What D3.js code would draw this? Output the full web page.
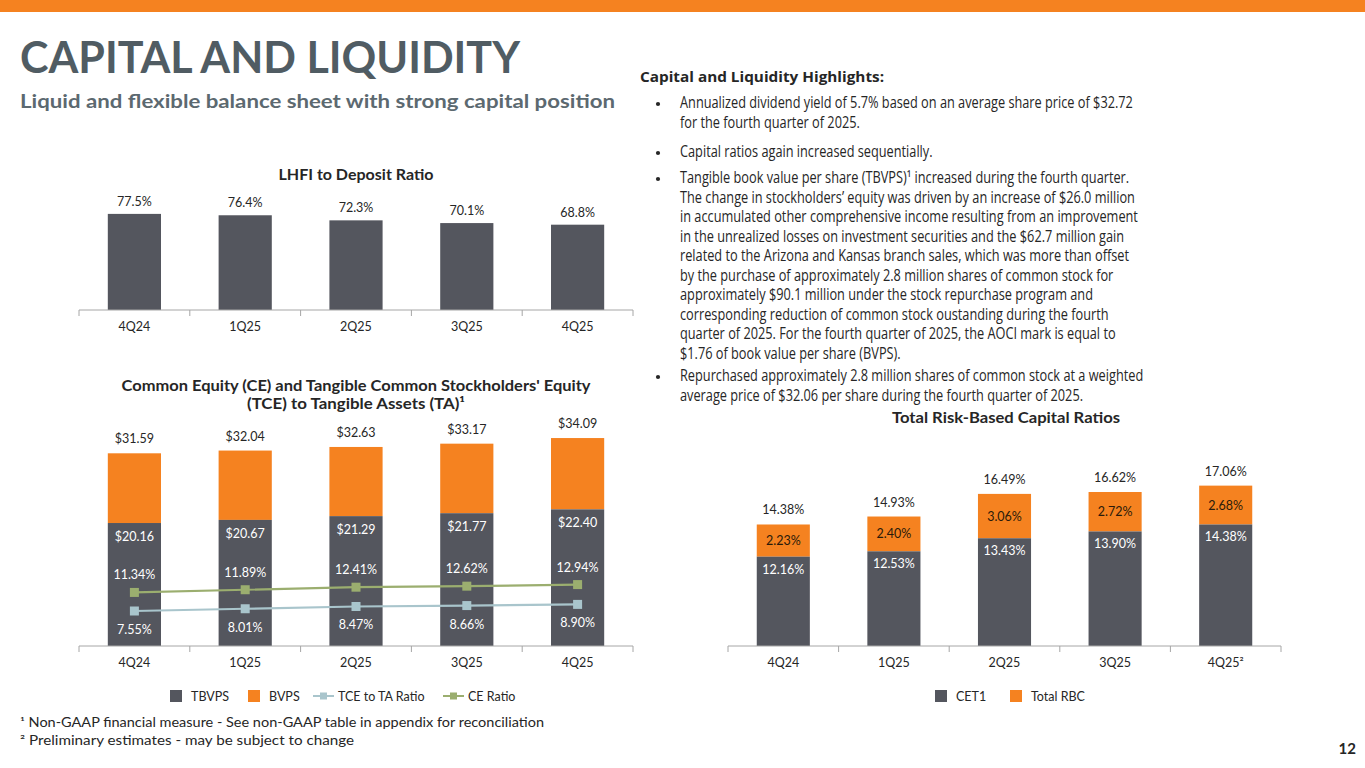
<!DOCTYPE html>
<html><head><meta charset="utf-8">
<script src="https://cdn.jsdelivr.net/npm/d3@7"></script>
<style>
html,body{margin:0;padding:0;background:#fff;}
svg{display:block;font-family:Lato,"Open Sans",sans-serif;}
</style></head>
<body>
<svg id="c" width="1365" height="768"></svg>
<script>
// ---------- data ----------
const quarters = ["4Q24","1Q25","2Q25","3Q25","4Q25"];
const rbcQuarters = ["4Q24","1Q25","2Q25","3Q25","4Q25²"];
const lhfiRatio = [77.5, 76.4, 72.3, 70.1, 68.8];
const tbvps = [20.16, 20.67, 21.29, 21.77, 22.40];
const bvps = [31.59, 32.04, 32.63, 33.17, 34.09];
const tceToTa = [7.55, 8.01, 8.47, 8.66, 8.90];
const ceRatio = [11.34, 11.89, 12.41, 12.62, 12.94];
const cet1 = [12.16, 12.53, 13.43, 13.90, 14.38];
const rbcIncrement = [2.23, 2.40, 3.06, 2.72, 2.68];
const totalRbc = [14.38, 14.93, 16.49, 16.62, 17.06];

const bulletLines = [
  ["Annualized dividend yield of 5.7% based on an average share price of $32.72",
   "for the fourth quarter of 2025."],
  ["Capital ratios again increased sequentially."],
  ["Tangible book value per share (TBVPS)¹ increased during the fourth quarter.",
   "The change in stockholders’ equity was driven by an increase of $26.0 million",
   "in accumulated other comprehensive income resulting from an improvement",
   "in the unrealized losses on investment securities and the $62.7 million gain",
   "related to the Arizona and Kansas branch sales, which was more than offset",
   "by the purchase of approximately 2.8 million shares of common stock for",
   "approximately $90.1 million under the stock repurchase program and",
   "corresponding reduction of common stock oustanding during the fourth",
   "quarter of 2025. For the fourth quarter of 2025, the AOCI mark is equal to",
   "$1.76 of book value per share (BVPS)."],
  ["Repurchased approximately 2.8 million shares of common stock at a weighted",
   "average price of $32.06 per share during the fourth quarter of 2025."]
];

// ---------- styles ----------
const DARK = "#54565E", ORANGE = "#F58220", TITLE = "#505C63";
const GREEN = "#9BAE6F", BLUE = "#A9C5CC", TXT = "#262626", AXIS = "#A6A6A6";

const svg = d3.select("#c");
function fit(sel, w){ sel.attr("textLength", w).attr("lengthAdjust","spacingAndGlyphs"); return sel; }

// top band
svg.append("rect").attr("x",0).attr("y",0).attr("width",1365).attr("height",12).attr("fill",ORANGE);

// titles
fit(svg.append("text").attr("x",20).attr("y",73).attr("font-size",43).attr("font-weight",700)
  .attr("fill",TITLE).text("CAPITAL AND LIQUIDITY"), 500);
fit(svg.append("text").attr("x",20).attr("y",108).attr("font-size",19.5).attr("font-weight",700)
  .attr("fill","#5C6970").text("Liquid and flexible balance sheet with strong capital position"), 595);

// ---------- helpers ----------
function xAxis(g, x, y0, labels){
  const [r0,r1] = x.range();
  g.append("line").attr("x1",r0).attr("x2",r1).attr("y1",y0).attr("y2",y0).attr("stroke",AXIS).attr("stroke-width",1);
  const bounds = [r0].concat(x.domain().map(d => x(d) + x.bandwidth()/2 + x.step()/2));
  g.selectAll(null).data(bounds).join("line")
    .attr("x1",d=>d).attr("x2",d=>d).attr("y1",y0).attr("y2",y0+6).attr("stroke",AXIS);
  g.selectAll(null).data(x.domain()).join("text")
    .attr("x",(d)=>x(d)+x.bandwidth()/2).attr("y",y0+21).attr("text-anchor","middle")
    .attr("font-size",12.5).attr("fill",TXT).text((d,i)=>labels[i]);
}
function band(r0,r1){
  return d3.scaleBand().domain(quarters).range([r0,r1]).paddingInner(0.52).paddingOuter(0.26);
}

// ---------- LHFI chart ----------
{
  const g = svg.append("g");
  const x = band(79, 633);
  const y = d3.scaleLinear().domain([0,100]).range([310,186]);
  fit(g.append("text").attr("x",356).attr("y",180).attr("text-anchor","middle").attr("font-size",14.5)
    .attr("font-weight",700).attr("fill",TXT).text("LHFI to Deposit Ratio"),155);
  g.selectAll(null).data(lhfiRatio).join("rect")
    .attr("x",(d,i)=>x(quarters[i])).attr("width",x.bandwidth())
    .attr("y",d=>y(d)).attr("height",d=>y(0)-y(d)).attr("fill",DARK);
  g.selectAll(null).data(lhfiRatio).join("text")
    .attr("x",(d,i)=>x(quarters[i])+x.bandwidth()/2).attr("y",d=>y(d)-8)
    .attr("text-anchor","middle").attr("font-size",12.5).attr("fill",TXT).text(d=>d.toFixed(1)+"%");
  xAxis(g, x, 310, quarters);
}

// ---------- CE / TCE chart ----------
{
  const g = svg.append("g");
  const x = band(79, 633);
  const y = d3.scaleLinear().domain([0,40]).range([646,402]);
  const y2 = d3.scaleLinear().domain([0,50]).range([648,403]);
  fit(g.append("text").attr("x",356).attr("y",391).attr("text-anchor","middle").attr("font-size",14.5)
    .attr("font-weight",700).attr("fill",TXT).text("Common Equity (CE) and Tangible Common Stockholders' Equity"),469);
  fit(g.append("text").attr("x",356).attr("y",409).attr("text-anchor","middle").attr("font-size",14.5)
    .attr("font-weight",700).attr("fill",TXT).text("(TCE) to Tangible Assets (TA)¹"),218);
  const cx = i => x(quarters[i]) + x.bandwidth()/2;
  g.selectAll(null).data(bvps).join("rect")
    .attr("x",(d,i)=>x(quarters[i])).attr("width",x.bandwidth())
    .attr("y",d=>y(d)).attr("height",(d,i)=>y(tbvps[i])-y(d)).attr("fill",ORANGE);
  g.selectAll(null).data(tbvps).join("rect")
    .attr("x",(d,i)=>x(quarters[i])).attr("width",x.bandwidth())
    .attr("y",d=>y(d)).attr("height",d=>y(0)-y(d)).attr("fill",DARK);
  g.selectAll(null).data(bvps).join("text")
    .attr("x",(d,i)=>cx(i)).attr("y",d=>y(d)-10).attr("text-anchor","middle")
    .attr("font-size",12.5).attr("fill",TXT).text(d=>"$"+d.toFixed(2));
  g.selectAll(null).data(tbvps).join("text")
    .attr("x",(d,i)=>cx(i)).attr("y",d=>y(d)+18).attr("text-anchor","middle")
    .attr("font-size",12.5).attr("fill","#fff").text(d=>"$"+d.toFixed(2));
  [[ceRatio,GREEN,-13],[tceToTa,BLUE,23]].forEach(([vals,col,off])=>{
    const line = d3.line().x((d,i)=>cx(i)).y(d=>y2(d));
    g.append("path").datum(vals).attr("d",line).attr("fill","none").attr("stroke",col).attr("stroke-width",2.2);
    g.selectAll(null).data(vals).join("rect")
      .attr("x",(d,i)=>cx(i)-4.5).attr("y",d=>y2(d)-4.5).attr("width",9).attr("height",9).attr("fill",col);
    g.selectAll(null).data(vals).join("text")
      .attr("x",(d,i)=>cx(i)).attr("y",d=>y2(d)+off).attr("text-anchor","middle")
      .attr("font-size",12.5).attr("fill","#fff").text(d=>d.toFixed(2)+"%");
  });
  xAxis(g, x, 646, quarters);
  const ly = 696;
  g.append("rect").attr("x",170).attr("y",ly-6).attr("width",12).attr("height",12).attr("fill",DARK);
  g.append("text").attr("x",191).attr("y",ly+4.5).attr("font-size",12.5).attr("fill",TXT).text("TBVPS");
  g.append("rect").attr("x",248).attr("y",ly-6).attr("width",12).attr("height",12).attr("fill",ORANGE);
  g.append("text").attr("x",269).attr("y",ly+4.5).attr("font-size",12.5).attr("fill",TXT).text("BVPS");
  [[313,BLUE,"TCE to TA Ratio"],[443,GREEN,"CE Ratio"]].forEach(([lx,col,t])=>{
    g.append("line").attr("x1",lx).attr("x2",lx+21).attr("y1",ly).attr("y2",ly).attr("stroke",col).attr("stroke-width",2);
    g.append("rect").attr("x",lx+7).attr("y",ly-3.5).attr("width",7).attr("height",7).attr("fill",col);
    g.append("text").attr("x",lx+25).attr("y",ly+4.5).attr("font-size",12.5).attr("fill",TXT).text(t);
  });
}

// ---------- RBC chart ----------
{
  const g = svg.append("g");
  const x = d3.scaleBand().domain(quarters).range([728,1281]).paddingInner(0.52).paddingOuter(0.26);
  const y = d3.scaleLinear().domain([6,18]).range([646,472]);
  const cx = i => x(quarters[i]) + x.bandwidth()/2;
  fit(g.append("text").attr("x",1006).attr("y",423).attr("text-anchor","middle").attr("font-size",14.5)
    .attr("font-weight",700).attr("fill",TXT).text("Total Risk-Based Capital Ratios"),228);
  g.selectAll(null).data(totalRbc).join("rect")
    .attr("x",(d,i)=>x(quarters[i])).attr("width",x.bandwidth())
    .attr("y",d=>y(d)).attr("height",(d,i)=>y(cet1[i])-y(d)).attr("fill",ORANGE);
  g.selectAll(null).data(cet1).join("rect")
    .attr("x",(d,i)=>x(quarters[i])).attr("width",x.bandwidth())
    .attr("y",d=>y(d)).attr("height",d=>646-y(d)).attr("fill",DARK);
  g.selectAll(null).data(totalRbc).join("text")
    .attr("x",(d,i)=>cx(i)).attr("y",d=>y(d)-10).attr("text-anchor","middle")
    .attr("font-size",12.5).attr("fill",TXT).text(d=>d.toFixed(2)+"%");
  g.selectAll(null).data(rbcIncrement).join("text")
    .attr("x",(d,i)=>cx(i)).attr("y",(d,i)=>(y(cet1[i])+y(totalRbc[i]))/2+4.5).attr("text-anchor","middle")
    .attr("font-size",12.5).attr("fill","#2a1a0a").text(d=>d.toFixed(2)+"%");
  g.selectAll(null).data(cet1).join("text")
    .attr("x",(d,i)=>cx(i)).attr("y",d=>y(d)+17).attr("text-anchor","middle")
    .attr("font-size",12.5).attr("fill","#fff").text(d=>d.toFixed(2)+"%");
  xAxis(g, x, 646, rbcQuarters);
  const ly = 696;
  g.append("rect").attr("x",935).attr("y",ly-6).attr("width",12).attr("height",12).attr("fill",DARK);
  g.append("text").attr("x",956).attr("y",ly+4.5).attr("font-size",12.5).attr("fill",TXT).text("CET1");
  g.append("rect").attr("x",1010).attr("y",ly-6).attr("width",12).attr("height",12).attr("fill",ORANGE);
  g.append("text").attr("x",1031).attr("y",ly+4.5).attr("font-size",12.5).attr("fill",TXT).text("Total RBC");
}

// ---------- highlights text ----------
{
  const g = svg.append("g").style("font-family","'Open Sans',Lato,sans-serif");
  fit(g.append("text").attr("x",640).attr("y",82).attr("font-size",15).attr("font-weight",700)
    .attr("fill",TXT).text("Capital and Liquidity Highlights:"),244);
  const ys = [[108,128],[157],[183,202.5,222,241.5,261,280.5,300,319.5,339,358.5],[381,400.5]];
  const probe = g.append("text").attr("font-size",15.5).text(bulletLines[0][0]);
  const scale = 453 / probe.node().getComputedTextLength();
  probe.remove();
  bulletLines.forEach((lines,bi)=>{
    g.append("circle").attr("cx",658).attr("cy",ys[bi][0]-4).attr("r",2.1).attr("fill",TXT);
    lines.forEach((t,li)=>{
      g.append("text").attr("transform",`translate(680,${ys[bi][li]}) scale(${scale},1)`)
        .attr("font-size",15.5).attr("fill",TXT).text(t);
    });
  });
}

// footnotes & page number
fit(svg.append("text").attr("x",20).attr("y",727).attr("font-size",13).attr("fill",TXT)
  .text("¹ Non-GAAP financial measure - See non-GAAP table in appendix for reconciliation"),524);
fit(svg.append("text").attr("x",20).attr("y",745).attr("font-size",13).attr("fill",TXT)
  .text("² Preliminary estimates - may be subject to change"),334);
svg.append("text").attr("x",1356).attr("y",754).attr("text-anchor","end").attr("font-size",15)
  .attr("font-weight",700).attr("fill",TXT).text("12");
</script>
</body></html>
